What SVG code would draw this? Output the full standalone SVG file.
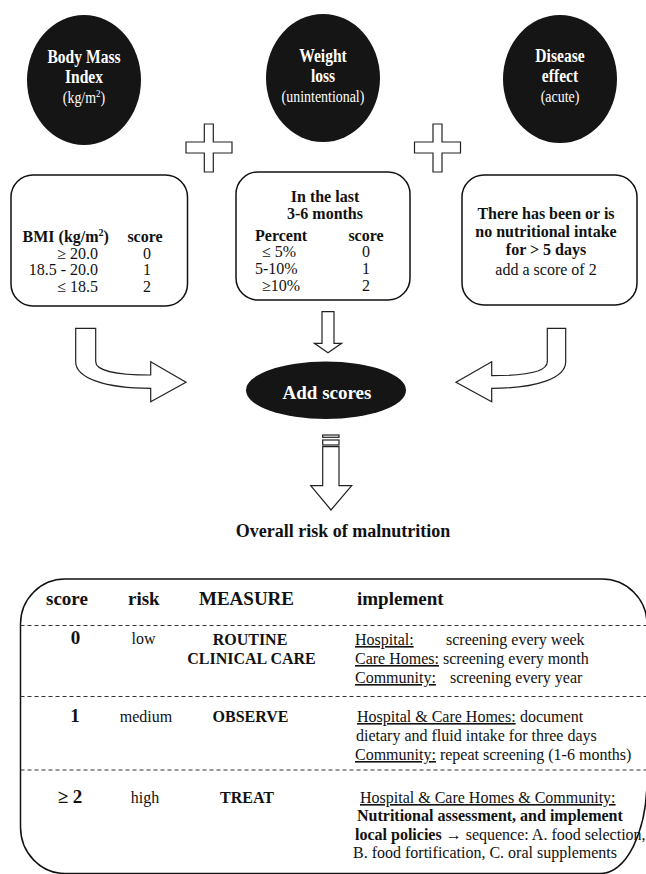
<svg xmlns="http://www.w3.org/2000/svg" width="646" height="874" viewBox="0 0 646 874">
<style>
text{font-family:"Liberation Serif","Times New Roman",serif;fill:#111;font-size:16px}
.b{font-weight:bold}
.w{fill:#fff}
.c{text-anchor:middle}
.e{text-anchor:end}
.t19{font-size:19px}
.t18{font-size:18px}
.t17{font-size:17px}
.blob{fill:#151515}
.box{fill:#fff;stroke:#111;stroke-width:1.5}
.shape{fill:#fff;stroke:#222;stroke-width:1.2}
.dash{stroke:#333;stroke-width:1.2;stroke-dasharray:4 3;fill:none}
.u{text-decoration:underline}
</style>

<g id="connectors">
  <path id="plus-left" class="shape" d="M204.3 124H213.3V142H232V153H213.3V172H204.3V153H186V142H204.3Z"/>
  <path id="plus-right" class="shape" d="M433 124H442V142H460.5V153H442V172H433V153H414.5V142H433Z"/>
  <path id="arrow-bmi" class="shape" d="M75.7 328.3H95.7V361.7C95.7 370 115 375 150.7 375V361.7L186 382.3L150.7 401.7V388.3C105 388.3 75.7 378 75.7 361.7Z"/>
  <path id="arrow-disease" class="shape" d="M565.7 328.3H547.3V361.7C547.3 371 528 375.7 491.7 375.7V361.7L456 382.3L491.7 401.7V388.3C537 388.3 565.7 378 565.7 361.7Z"/>
  <path id="arrow-weight" class="shape" d="M322 311.7H334V343.3H341.6L328 352.7L314.4 343.3H322Z"/>
  <g id="arrow-result">
    <rect class="shape" x="322.7" y="435" width="16.3" height="2.3"/>
    <rect class="shape" x="322.7" y="440" width="16.3" height="5"/>
    <path class="shape" d="M322.7 446.7H339V485.7H351.7L331 510L310.7 485.7H322.7Z"/>
  </g>
</g>

<g id="node-bmi">
  <ellipse class="blob" cx="84" cy="80" rx="57" ry="65"/>
  <g transform="translate(84 0) scale(0.82 1)">
    <text class="b w c t19" x="0" y="63">Body Mass</text>
    <text class="b w c t19" x="0" y="83">Index</text>
    <text class="w c t17" x="0" y="103">(kg/m<tspan dy="-6" font-size="11">2</tspan><tspan dy="6">)</tspan></text>
  </g>
</g>

<g id="node-weight">
  <ellipse class="blob" cx="323" cy="78" rx="57" ry="64"/>
  <g transform="translate(323 0) scale(0.82 1)">
    <text class="b w c t19" x="0" y="62">Weight</text>
    <text class="b w c t19" x="0" y="82">loss</text>
    <text class="w c t17" x="0" y="102">(unintentional)</text>
  </g>
</g>

<g id="node-disease">
  <ellipse class="blob" cx="560" cy="79" rx="57" ry="64"/>
  <g transform="translate(560 0) scale(0.82 1)">
    <text class="b w c t19" x="0" y="62">Disease</text>
    <text class="b w c t19" x="0" y="82">effect</text>
    <text class="w c t17" x="0" y="102">(acute)</text>
  </g>
</g>

<g id="node-bmi-score">
  <rect class="box" x="11" y="175" width="176.5" height="131" rx="22" ry="22"/>
  <text class="b" x="22.6" y="242">BMI (kg/m<tspan dy="-6" font-size="10">2</tspan><tspan dy="6">)</tspan></text>
  <text class="b c" x="145" y="242">score</text>
  <text class="e" x="98" y="259">≥ 20.0</text>
  <text class="e" x="98" y="275">18.5 - 20.0</text>
  <text class="e" x="98" y="292">≤ 18.5</text>
  <text class="c" x="147" y="259">0</text>
  <text class="c" x="147" y="275">1</text>
  <text class="c" x="147" y="292">2</text>
</g>

<g id="node-weight-score">
  <rect class="box" x="236" y="172" width="174" height="128" rx="22" ry="22"/>
  <text class="b c" x="325" y="202">In the last</text>
  <text class="b c" x="325" y="219">3-6 months</text>
  <text class="b" x="255" y="241">Percent</text>
  <text class="b c" x="366" y="241">score</text>
  <text x="262" y="257">≤ 5%</text>
  <text x="255" y="274">5-10%</text>
  <text x="262" y="291">≥10%</text>
  <text class="c" x="366" y="257">0</text>
  <text class="c" x="366" y="274">1</text>
  <text class="c" x="366" y="291">2</text>
</g>

<g id="node-disease-score">
  <rect class="box" x="462" y="175" width="175" height="130" rx="22" ry="22"/>
  <text class="b c" x="546" y="219">There has been or is</text>
  <text class="b c" x="546" y="237">no nutritional intake</text>
  <text class="b c" x="546" y="255">for &gt; 5 days</text>
  <text class="c" x="546" y="275">add a score of 2</text>
</g>

<g id="node-add-scores">
  <ellipse class="blob" cx="326" cy="390.3" rx="80" ry="28.7"/>
  <text class="b w c t19" x="327" y="399">Add scores</text>
</g>

<g id="node-overall">
  <text class="b c t18" x="343" y="537">Overall risk of malnutrition</text>
</g>

<g id="node-risk-table">
  <path fill="none" stroke="#111" stroke-width="1.5" d="M65 579H602A45 45 0 0 1 647 624V780A46 94 0 0 1 601 873.5H65A44.5 46.5 0 0 1 20.5 827V624A44.5 45 0 0 1 65 579Z"/>
  <line class="dash" x1="20.5" y1="625.5" x2="646" y2="625.5"/>
  <line class="dash" x1="20.5" y1="696.5" x2="646" y2="696.5"/>
  <line class="dash" x1="20.5" y1="770" x2="646" y2="770"/>

  <text class="b t19" x="46" y="605">score</text>
  <text class="b t19" x="128" y="605">risk</text>
  <text class="b t19" x="199" y="605">MEASURE</text>
  <text class="b t19" x="357" y="605">implement</text>

  <text class="b c t19" x="75.5" y="644">0</text>
  <text class="c" x="143.5" y="644">low</text>
  <text class="b c" x="250" y="645">ROUTINE</text>
  <text class="b c" x="251.5" y="664">CLINICAL CARE</text>
  <text x="355" y="645"><tspan class="u">Hospital:</tspan></text>
  <text x="446" y="645">screening every week</text>
  <text x="355" y="664"><tspan class="u">Care Homes:</tspan></text>
  <text x="443" y="664">screening every month</text>
  <text x="355" y="683"><tspan class="u">Community:</tspan></text>
  <text x="450" y="683">screening every year</text>

  <text class="b c t19" x="75" y="722">1</text>
  <text class="c" x="146" y="722">medium</text>
  <text class="b c" x="250.5" y="722">OBSERVE</text>
  <text x="357" y="722"><tspan class="u">Hospital &amp; Care Homes:</tspan></text>
  <text x="520" y="722">document</text>
  <text x="356" y="741">dietary and fluid intake for three days</text>
  <text x="355" y="760"><tspan class="u">Community:</tspan> repeat screening (1-6 months)</text>

  <text class="b c t19" x="70" y="803">≥ 2</text>
  <text class="c" x="145" y="803">high</text>
  <text class="b c" x="247" y="803">TREAT</text>
  <text x="360" y="803"><tspan class="u">Hospital &amp; Care Homes &amp; Community:</tspan></text>
  <text class="b" x="357" y="821">Nutritional assessment, and implement</text>
  <text x="355" y="840"><tspan class="b">local policies</tspan> → sequence: A. food selection,</text>
  <text x="353" y="858">B. food fortification, C. oral supplements</text>
</g>
</svg>
